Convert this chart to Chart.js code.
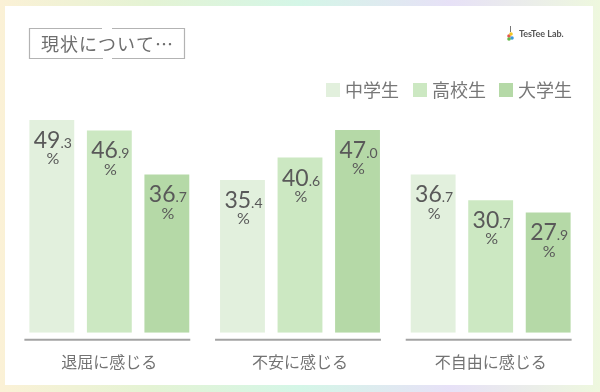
<!DOCTYPE html>
<html>
<head>
<meta charset="utf-8">
<script src="https://cdn.jsdelivr.net/npm/chart.js@4.4.0/dist/chart.umd.min.js"></script>
<style>
  html, body { margin: 0; padding: 0; }
  body {
    width: 600px; height: 392px; position: relative; overflow: hidden;
    background: linear-gradient(90deg, #fbf1d6 0%, #e4f3d4 25%, #d4f6e7 50%, #e7e1f7 75%, #eef8de 100%);
  }
  #card {
    position: absolute; left: 5px; top: 6px; width: 588px; height: 379px;
    background: #fff;
  }
  #wrap { position: absolute; left: 0; top: 0; width: 600px; height: 392px; }
</style>
</head>
<body>
<div id="card"></div>
<div id="wrap"><canvas id="grafico" width="600" height="392"></canvas></div>
<script>
// dados do gráfico
const categorias = ['退屈に感じる', '不安に感じる', '不自由に感じる'];
const nomesSeries = ['中学生', '高校生', '大学生'];
const valoresChugaku = [49.3, 35.4, 36.7];
const valoresKoko = [46.9, 40.6, 30.7];
const valoresDaigaku = [36.7, 47.0, 27.9];
const coresSeries = ['#e2f0dd', '#cce8c2', '#b5d9a7'];
const titulo = '現状について…';

const fonteJP = '"Noto Sans CJK JP", "Noto Sans", sans-serif';
const fonteNum = 'Lato, "Noto Sans", sans-serif';

// rótulos de valor dentro das barras
const rotulosPlugin = {
    id: 'rotulos',
    afterDatasetsDraw(chart) {
        const ctx = chart.ctx;
        ctx.save();
        ctx.fillStyle = '#595959';
        ctx.textBaseline = 'alphabetic';
        chart.data.datasets.forEach((ds, di) => {
            const meta = chart.getDatasetMeta(di);
            meta.data.forEach((el, i) => {
                const txt = ds.data[i].toFixed(1);
                const inteiro = txt.split('.')[0];
                const decimal = '.' + txt.split('.')[1];
                ctx.font = '23px ' + fonteNum;
                const w1 = ctx.measureText(inteiro).width;
                ctx.font = '14px ' + fonteNum;
                const w2 = ctx.measureText(decimal).width;
                const x0 = el.x - (w1 + w2) / 2 + 1;
                const base = el.y + 28;
                ctx.textAlign = 'left';
                ctx.font = '23px ' + fonteNum;
                ctx.fillText(inteiro, x0, base);
                ctx.font = '14px ' + fonteNum;
                ctx.fillText(decimal, x0 + w1, base);
                ctx.textAlign = 'center';
                ctx.textBaseline = 'middle';
                ctx.font = '16px ' + fonteNum;
                ctx.fillText('%', el.x + 1, el.y + 39);
                ctx.textBaseline = 'alphabetic';
            });
        });
        ctx.restore();
    }
};

// título, legenda, logo e linhas de base
const decoracaoPlugin = {
    id: 'decoracao',
    afterDraw(chart) {
        const ctx = chart.ctx;
        const area = chart.chartArea;
        ctx.save();

        // linhas de base por categoria
        const primeiro = chart.getDatasetMeta(0);
        const ultimo = chart.getDatasetMeta(chart.data.datasets.length - 1);
        ctx.strokeStyle = '#a3a3a3';
        ctx.lineWidth = 2;
        primeiro.data.forEach((el, i) => {
            const esq = el.x - el.width / 2 - 5;
            const fim = ultimo.data[i];
            const dir = fim.x + fim.width / 2 + 1;
            ctx.beginPath();
            ctx.moveTo(esq, area.bottom + 7);
            ctx.lineTo(dir, area.bottom + 7);
            ctx.stroke();
        });

        // título com moldura
        ctx.strokeStyle = '#b3b3b3';
        ctx.lineWidth = 1.2;
        ctx.beginPath();
        ctx.moveTo(102, 28.5); ctx.lineTo(29.5, 28.5); ctx.lineTo(29.5, 58.5); ctx.lineTo(103, 58.5);
        ctx.moveTo(112, 28.5); ctx.lineTo(184.5, 28.5); ctx.lineTo(184.5, 58.5); ctx.lineTo(112, 58.5);
        ctx.stroke();
        ctx.fillStyle = '#6e6e6e';
        ctx.font = '18px ' + fonteJP;
        ctx.textAlign = 'left';
        ctx.textBaseline = 'middle';
        ctx.letterSpacing = '1px';
        ctx.fillText(titulo, 41, 44);
        ctx.letterSpacing = '0px';

        // legenda
        const legX = [326, 413, 499];
        chart.data.datasets.forEach((ds, di) => {
            ctx.fillStyle = ds.backgroundColor;
            ctx.fillRect(legX[di], 83, 14, 14);
            ctx.fillStyle = '#777777';
            ctx.font = '18px ' + fonteJP;
            ctx.fillText(ds.label, legX[di] + 19, 90);
        });

        // logo
        ctx.fillStyle = '#555';
        ctx.font = 'bold 9px ' + fonteNum;
        ctx.fillText('TesTee Lab.', 519, 34);
        const pontos = [[509, 36, '#e2574c'], [512, 38, '#3a9ad9'], [509, 39, '#66b84a'], [511, 34, '#f3c623']];
        pontos.forEach(p => {
            ctx.fillStyle = p[2];
            ctx.beginPath();
            ctx.arc(p[0], p[1], 1.8, 0, Math.PI * 2);
            ctx.fill();
        });
        ctx.strokeStyle = '#777';
        ctx.lineWidth = 1;
        ctx.beginPath();
        ctx.moveTo(510.5, 26); ctx.lineTo(510.5, 32);
        ctx.stroke();

        ctx.restore();
    }
};

function inicializarGrafico() {
    const ctx = document.getElementById('grafico');
    if (!ctx) {
        console.error('canvas não encontrado');
        return;
    }
    const series = [valoresChugaku, valoresKoko, valoresDaigaku];
    new Chart(ctx, {
        type: 'bar',
        data: {
            labels: categorias,
            datasets: series.map((valores, i) => ({
                label: nomesSeries[i],
                data: valores,
                backgroundColor: coresSeries[i],
                borderWidth: 0,
                categoryPercentage: 0.905,
                barPercentage: 0.78
            }))
        },
        options: {
            responsive: false,
            animation: false,
            layout: {
                padding: { left: 14, right: 14, top: 117, bottom: 0 }
            },
            plugins: {
                legend: { display: false },
                tooltip: { enabled: false }
            },
            scales: {
                x: {
                    grid: { display: false, drawTicks: false },
                    border: { display: false },
                    ticks: {
                        color: '#737373',
                        padding: 20,
                        font: { family: fonteJP, size: 16 }
                    }
                },
                y: {
                    display: false,
                    min: 0,
                    max: 50
                }
            }
        },
        plugins: [rotulosPlugin, decoracaoPlugin]
    });
}

inicializarGrafico();
</script>
</body>
</html>
